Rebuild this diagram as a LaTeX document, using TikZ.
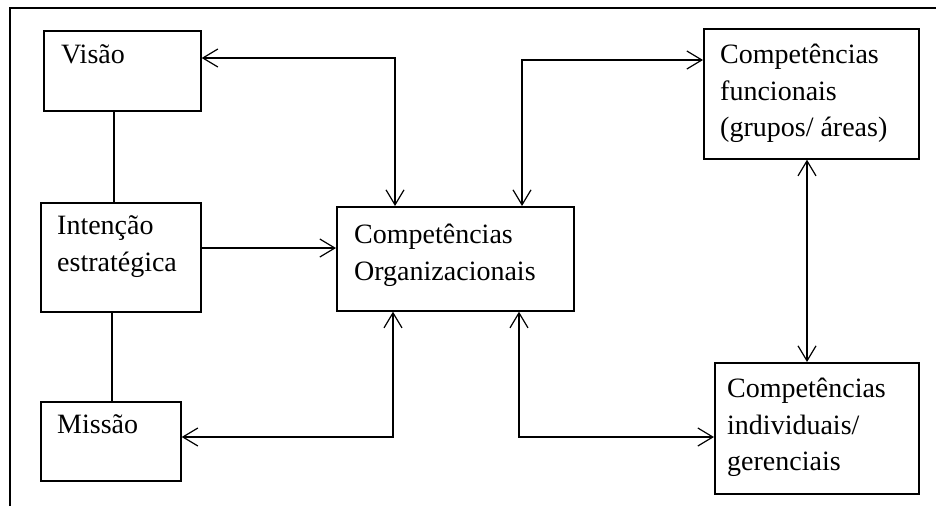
\documentclass[tikz,border=0pt]{standalone}
\usepackage{fontspec}
\setmainfont{Liberation Serif}
\usetikzlibrary{arrows.meta}
\begin{document}
\begin{tikzpicture}[x=1pt,y=-1pt,
  box/.style={draw,line width=1.7pt,inner sep=0pt,anchor=north west},
  txt/.style={anchor=north west,inner sep=0pt,align=left,font=\fontsize{28}{36.5}\selectfont},
  conn/.style={line width=1.6pt},
  biarrow/.style={conn,{Straight Barb[length=15pt,width=18pt,line width=1.2pt]}-{Straight Barb[length=15pt,width=18pt,line width=1.2pt]}},
  oarrow/.style={conn,-{Straight Barb[length=15pt,width=18pt,line width=1.2pt]}}]
\useasboundingbox (0,0) rectangle (936,506);
% outer frame (open)
\draw[line width=1.6pt] (10,506) -- (10,8) -- (936,8);
% boxes
\node[box,minimum width=157pt,minimum height=80pt] (vis) at (43,30) {};
\node[box,minimum width=160pt,minimum height=109pt] (int) at (40,202) {};
\node[box,minimum width=140pt,minimum height=79pt] (mis) at (40,401) {};
\node[box,minimum width=237pt,minimum height=104pt] (org) at (336,206) {};
\node[box,minimum width=215pt,minimum height=130pt] (fun) at (703,28) {};
\node[box,minimum width=204pt,minimum height=131pt] (ind) at (714,362) {};
% texts
\node[txt] (tvis) at (61,44) {Visão};
\node[txt] (tint) at (57,215.5) {Intenção\\estratégica};
\node[txt] (tmis) at (57,414) {Missão};
\node[txt] (torg) at (354,224) {Competências\\Organizacionais};
\node[txt] (tfun) at (720,44) {Competências\\funcionais\\(grupos/ áreas)};
\node[txt] (tind) at (727,378) {Competências\\individuais/\\gerenciais};
% plain connectors
\draw[conn] (vis.south -| 114,0) -- (int.north -| 114,0);
\draw[conn] (int.south -| 112,0) -- (mis.north -| 112,0);
% arrows
\draw[oarrow] (int.east |- 0,248) -- (org.west |- 0,248);
\draw[biarrow] (vis.east |- 0,58) -| (org.north -| 395,0);
\draw[biarrow] (org.north -| 522,0) |- (fun.west |- 0,60);
\draw[biarrow] (mis.east |- 0,437) -| (org.south -| 393,0);
\draw[biarrow] (org.south -| 519,0) |- (ind.west |- 0,437);
\draw[biarrow] (fun.south -| 807,0) -- (ind.north -| 807,0);
\end{tikzpicture}
\end{document}
